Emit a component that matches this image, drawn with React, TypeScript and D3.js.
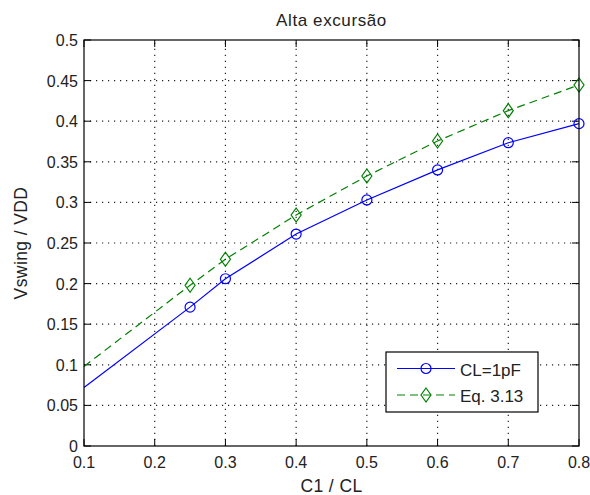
import React, { useEffect, useRef } from 'react'
import * as d3 from 'd3'

// data
const lineX = [0.1, 0.25, 0.3, 0.4, 0.5, 0.6, 0.7, 0.8]
const simValues = [0.072, 0.171, 0.206, 0.261, 0.303, 0.340, 0.3735, 0.397]
const eqValues = [0.098, 0.198, 0.230, 0.2845, 0.3325, 0.3756, 0.413, 0.4446]
const markerX = [0.25, 0.3, 0.4, 0.5, 0.6, 0.7, 0.8]
const xTicks = [0.1, 0.2, 0.3, 0.4, 0.5, 0.6, 0.7, 0.8]
const yTicks = [0, 0.05, 0.1, 0.15, 0.2, 0.25, 0.3, 0.35, 0.4, 0.45, 0.5]
const seriesNames = ['CL=1pF', 'Eq. 3.13']

const W = 590
const H = 495
const left = 84
const right = 579
const top = 40
const bottom = 446
const font = 'Liberation Sans, Arial, sans-serif'

const App = () => {
  const ref = useRef<SVGSVGElement>(null)

  useEffect(() => {
    const svg = d3.select(ref.current)
    svg.selectAll('*').remove()

    const x = d3.scaleLinear().domain([0.1, 0.8]).range([left, right])
    const y = d3.scaleLinear().domain([0, 0.5]).range([bottom, top])

    svg.append('rect').attr('width', W).attr('height', H).attr('fill', '#fff')

    // grid
    const grid = svg.append('g').attr('stroke', '#222').attr('stroke-width', 1.2).attr('stroke-dasharray', '1.2,4.8')
    xTicks.slice(1, -1).forEach(t => {
      grid.append('line').attr('x1', x(t)).attr('x2', x(t)).attr('y1', bottom).attr('y2', top)
    })
    yTicks.slice(1, -1).forEach(t => {
      grid.append('line').attr('x1', left).attr('x2', right).attr('y1', y(t)).attr('y2', y(t))
    })

    // tick marks (inside) on all four sides
    const ticks = svg.append('g').attr('stroke', '#000').attr('stroke-width', 1)
    xTicks.forEach(t => {
      ticks.append('line').attr('x1', x(t)).attr('x2', x(t)).attr('y1', bottom).attr('y2', bottom - 7)
      ticks.append('line').attr('x1', x(t)).attr('x2', x(t)).attr('y1', top).attr('y2', top + 7)
    })
    yTicks.forEach(t => {
      ticks.append('line').attr('x1', left).attr('x2', left + 7).attr('y1', y(t)).attr('y2', y(t))
      ticks.append('line').attr('x1', right).attr('x2', right - 7).attr('y1', y(t)).attr('y2', y(t))
    })

    // lines
    const line = d3.line<number>().x((d, i) => x(lineX[i])).y(d => y(d))
    svg.append('path').datum(simValues).attr('d', line).attr('fill', 'none')
      .attr('stroke', '#0000ff').attr('stroke-width', 1.2)
    svg.append('path').datum(eqValues).attr('d', line).attr('fill', 'none')
      .attr('stroke', '#008000').attr('stroke-width', 1.2).attr('stroke-dasharray', '8,5')

    const markerIdx = markerX.map(m => lineX.indexOf(m))
    svg.append('g').selectAll('circle').data(markerIdx).join('circle')
      .attr('cx', i => x(lineX[i])).attr('cy', i => y(simValues[i])).attr('r', 5)
      .attr('fill', 'none').attr('stroke', '#0000ff').attr('stroke-width', 1.2)
    const diamond = (cx: number, cy: number) => `M${cx},${cy - 7}L${cx + 5},${cy}L${cx},${cy + 7}L${cx - 5},${cy}Z`
    svg.append('g').selectAll('path').data(markerIdx).join('path')
      .attr('d', i => diamond(x(lineX[i]), y(eqValues[i])))
      .attr('fill', 'none').attr('stroke', '#008000').attr('stroke-width', 1.2)

    // box
    svg.append('rect').attr('x', left).attr('y', top).attr('width', right - left).attr('height', bottom - top)
      .attr('fill', 'none').attr('stroke', '#000').attr('stroke-width', 1.2)

    // tick labels
    const txt = svg.append('g').attr('font-family', font).attr('font-size', 16).attr('fill', '#222')
    xTicks.forEach(t => {
      txt.append('text').attr('x', x(t)).attr('y', 468).attr('text-anchor', 'middle').text(String(t))
    })
    yTicks.forEach(t => {
      txt.append('text').attr('x', left - 6).attr('y', y(t) + 6).attr('text-anchor', 'end').text(String(t))
    })

    // title and axis labels
    txt.append('text').attr('x', (left + right) / 2).attr('y', 26).attr('text-anchor', 'middle')
      .attr('font-size', 17).attr('letter-spacing', 0.6).text('Alta excursão')
    txt.append('text').attr('x', (left + right) / 2).attr('y', 492).attr('text-anchor', 'middle')
      .attr('font-size', 17.5).attr('letter-spacing', 0.4).text('C1 / CL')
    txt.append('text').attr('transform', `translate(27,${(top + bottom) / 2}) rotate(-90)`)
      .attr('text-anchor', 'middle').attr('font-size', 17.5).attr('letter-spacing', 0.4).text('Vswing / VDD')

    // legend
    const lg = svg.append('g')
    lg.append('rect').attr('x', 386).attr('y', 352).attr('width', 152).attr('height', 60)
      .attr('fill', '#fff').attr('stroke', '#000').attr('stroke-width', 1.2)
    const rowY = [368.5, 395]
    const colors = ['#0000ff', '#008000']
    seriesNames.forEach((name, k) => {
      const cy = rowY[k]
      lg.append('line').attr('x1', 397).attr('x2', 455).attr('y1', cy).attr('y2', cy)
        .attr('stroke', colors[k]).attr('stroke-width', 1.2)
        .attr('stroke-dasharray', k === 1 ? '8,5' : null)
      if (k === 0) {
        lg.append('circle').attr('cx', 426).attr('cy', cy).attr('r', 5)
          .attr('fill', 'none').attr('stroke', colors[k]).attr('stroke-width', 1.2)
      } else {
        lg.append('path').attr('d', diamond(426, cy))
          .attr('fill', 'none').attr('stroke', colors[k]).attr('stroke-width', 1.2)
      }
      lg.append('text').attr('x', 460).attr('y', cy + 7).attr('font-family', font)
        .attr('font-size', 17).attr('fill', '#222').text(name)
    })
  })

  return <svg ref={ref} width={W} height={H} style={{ display: 'block', position: 'absolute', left: 0, top: 0 }} />
}

export default App
